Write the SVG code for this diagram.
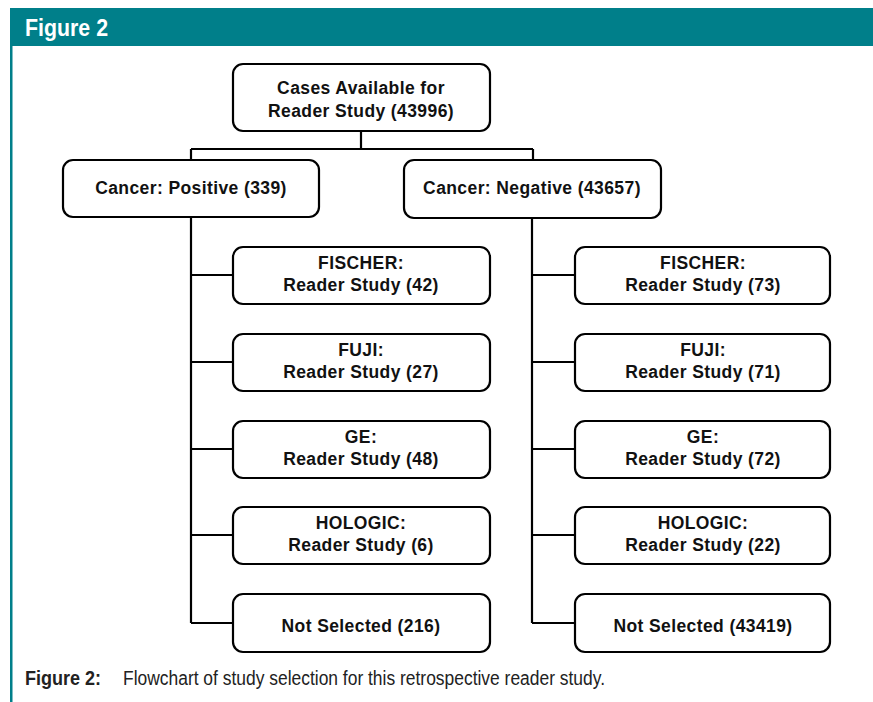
<svg xmlns="http://www.w3.org/2000/svg" width="873" height="702" viewBox="0 0 873 702">
<style>
.box{fill:#fff;stroke:#000;stroke-width:2.2}
.t{font-family:"Liberation Sans",Arial,sans-serif;font-weight:bold;font-size:17.5px;letter-spacing:0.4px;text-anchor:middle;fill:#111}
.c{fill:none;stroke:#000;stroke-width:2.2}
</style>
<rect x="0" y="0" width="873" height="702" fill="#fff"/>
<rect x="10" y="8" width="863" height="38" fill="#007f8a"/>
<rect x="10" y="46" width="2.5" height="656" fill="#007f8a"/>
<text x="25" y="36" font-family="Liberation Sans,Arial,sans-serif" font-weight="bold" font-size="24" fill="#fff" textLength="83" lengthAdjust="spacingAndGlyphs">Figure 2</text>
<g id="connectors">
<path class="c" d="M361 131 V149 M191 149 H533 M191 149 V160 M533 149 V160"/>
<path class="c" d="M191 217 V623 M191 275 H233 M191 362 H233 M191 449 H233 M191 535 H233 M191 623 H233"/>
<path class="c" d="M532 218 V623 M532 275 H575 M532 362 H575 M532 449 H575 M532 535 H575 M532 623 H575"/>
</g>
<g id="root"><rect class="box" x="233" y="64" width="257" height="67" rx="10"/><text class="t" x="361" y="94">Cases Available for</text><text class="t" x="361" y="117">Reader Study (43996)</text></g>
<g id="pos"><rect class="box" x="63" y="160" width="256" height="57" rx="10"/><text class="t" x="191" y="194">Cancer: Positive (339)</text></g>
<g id="neg"><rect class="box" x="404" y="160" width="257" height="58" rx="10"/><text class="t" x="532" y="194">Cancer: Negative (43657)</text></g>
<g id="pos-fischer"><rect class="box" x="233" y="247" width="257" height="57" rx="10"/><text class="t" x="361" y="269">FISCHER:</text><text class="t" x="361" y="291">Reader Study (42)</text></g>
<g id="pos-fuji"><rect class="box" x="233" y="334" width="257" height="57" rx="10"/><text class="t" x="361" y="356">FUJI:</text><text class="t" x="361" y="378">Reader Study (27)</text></g>
<g id="pos-ge"><rect class="box" x="233" y="421" width="257" height="57" rx="10"/><text class="t" x="361" y="443">GE:</text><text class="t" x="361" y="465">Reader Study (48)</text></g>
<g id="pos-hologic"><rect class="box" x="233" y="507" width="257" height="57" rx="10"/><text class="t" x="361" y="529">HOLOGIC:</text><text class="t" x="361" y="551">Reader Study (6)</text></g>
<g id="pos-notsel"><rect class="box" x="233" y="594" width="257" height="58" rx="10"/><text class="t" x="361" y="632">Not Selected (216)</text></g>
<g id="neg-fischer"><rect class="box" x="575" y="247" width="255" height="57" rx="10"/><text class="t" x="703" y="269">FISCHER:</text><text class="t" x="703" y="291">Reader Study (73)</text></g>
<g id="neg-fuji"><rect class="box" x="575" y="334" width="255" height="57" rx="10"/><text class="t" x="703" y="356">FUJI:</text><text class="t" x="703" y="378">Reader Study (71)</text></g>
<g id="neg-ge"><rect class="box" x="575" y="421" width="255" height="57" rx="10"/><text class="t" x="703" y="443">GE:</text><text class="t" x="703" y="465">Reader Study (72)</text></g>
<g id="neg-hologic"><rect class="box" x="575" y="507" width="255" height="57" rx="10"/><text class="t" x="703" y="529">HOLOGIC:</text><text class="t" x="703" y="551">Reader Study (22)</text></g>
<g id="neg-notsel"><rect class="box" x="575" y="594" width="255" height="58" rx="10"/><text class="t" x="703" y="632">Not Selected (43419)</text></g>
<text x="25" y="685" font-family="Liberation Sans,Arial,sans-serif" font-weight="bold" font-size="20" fill="#222" textLength="76" lengthAdjust="spacingAndGlyphs">Figure 2:</text>
<text x="123" y="685" font-family="Liberation Sans,Arial,sans-serif" font-size="20" fill="#222" textLength="482" lengthAdjust="spacingAndGlyphs">Flowchart of study selection for this retrospective reader study.</text>
</svg>
